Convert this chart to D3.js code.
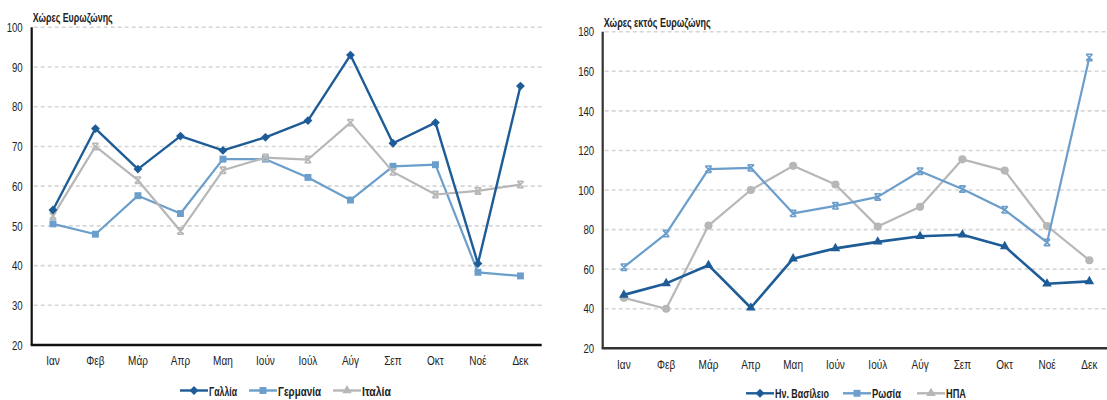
<!DOCTYPE html>
<html>
<head>
<meta charset="utf-8">
<script src="https://cdn.jsdelivr.net/npm/d3@7"></script>
<style>
  html, body { margin: 0; padding: 0; background: #fff; }
  svg { display: block; }
  text { font-family: "Liberation Sans", Arial, sans-serif; fill: #222; }
</style>
</head>
<body>
<svg id="chart" width="1107" height="400"></svg>
<script>
// Months shared by both panels
const months = ["Ιαν", "Φεβ", "Μάρ", "Απρ", "Μαη", "Ιούν", "Ιούλ", "Αύγ", "Σεπ", "Οκτ", "Νοέ", "Δεκ"];

// Eurozone countries
const franceValues  = [54, 74.5, 64.3, 72.6, 69, 72.3, 76.5, 93, 70.8, 76, 40.5, 85.2];
const germanyValues = [50.5, 47.9, 57.6, 53.1, 66.8, 66.8, 62.2, 56.5, 65, 65.4, 38.3, 37.4];
const italyValues   = [52.5, 70, 61.5, 48.7, 64, 67.2, 66.7, 76, 63.6, 57.9, 58.8, 60.4];
const euroTicks = [20, 30, 40, 50, 60, 70, 80, 90, 100];

// Non-eurozone countries
const ukValues     = [47, 52.8, 62, 40.5, 65.3, 70.5, 73.8, 76.6, 77.4, 71.5, 52.6, 53.8];
const russiaValues = [61, 78, 110.5, 111.2, 88.2, 92, 96.5, 109.5, 100.5, 90, 73.5, 167];
const usaValues    = [45.5, 40, 82, 100, 112.2, 102.8, 81.5, 91.5, 115.5, 109.8, 81.8, 64.5];
const nonEuroTicks = [20, 40, 60, 80, 100, 120, 140, 160, 180];

const DARK = "#1d5c96", LIGHT = "#6b9ecb", GREY = "#b7b7b7";

const svg = d3.select("#chart");

// Excel-style "x" marker with top and bottom bars
const crossStar = {
  draw(ctx, size) {
    const r = Math.sqrt(size) / 2;
    ctx.moveTo(-r, -r); ctx.lineTo(r, r);
    ctx.moveTo(r, -r); ctx.lineTo(-r, r);
    ctx.moveTo(-r, -r); ctx.lineTo(r, -r);
    ctx.moveTo(-r, r); ctx.lineTo(r, r);
  }
};

function marker(g, type, color, x, y) {
  const t = `translate(${x},${y})`;
  if (type === "diamond") {
    g.append("path").attr("d", d3.symbol(d3.symbolDiamond2, 50)()).attr("transform", t).attr("fill", color);
  } else if (type === "square") {
    g.append("path").attr("d", d3.symbol(d3.symbolSquare, 48)()).attr("transform", t).attr("fill", color);
  } else if (type === "triangle") {
    g.append("path").attr("d", d3.symbol(d3.symbolTriangle, 40)()).attr("transform", t).attr("fill", color);
  } else if (type === "circle") {
    g.append("path").attr("d", d3.symbol(d3.symbolCircle, 52)()).attr("transform", t).attr("fill", color);
  } else if (type === "cross") {
    g.append("path").attr("d", d3.symbol(crossStar, 40)()).attr("transform", t)
      .attr("fill", "none").attr("stroke", color).attr("stroke-width", 1.6);
  }
}

function drawPanel(opt) {
  const g = svg.append("g");
  const x = d3.scaleBand().domain(months).range([opt.left, opt.right]).padding(0);
  const y = d3.scaleLinear().domain(opt.domain).range([opt.bottom, opt.top]);
  const cx = m => x(m) + x.bandwidth() / 2;

  // dashed horizontal gridlines
  g.append("g").selectAll("line").data(opt.ticks.slice(1)).join("line")
    .attr("x1", opt.left + 2).attr("x2", opt.gridEnd)
    .attr("y1", d => y(d)).attr("y2", d => y(d))
    .attr("stroke", "#d6d6d6").attr("stroke-width", 1.6).attr("stroke-dasharray", "4,3");

  // y axis
  const yAxis = d3.axisLeft(y).tickValues(opt.ticks).tickSize(0).tickPadding(opt.tickPad);
  const ya = g.append("g").attr("transform", `translate(${opt.left},0)`).call(yAxis);
  ya.select(".domain").remove();
  ya.selectAll("text").attr("class", "narrow").attr("font-size", 13).attr("fill", "#333")
    .style("font-family", '"Liberation Sans", Arial, sans-serif');
  g.append("line").attr("x1", opt.left).attr("x2", opt.left).attr("y1", opt.top).attr("y2", opt.bottom)
    .attr("stroke", opt.axisColor).attr("stroke-width", 2.2);

  // x axis
  const xAxis = d3.axisBottom(x).tickSize(0).tickPadding(opt.xPad);
  const xa = g.append("g").attr("transform", `translate(0,${opt.bottom})`).call(xAxis);
  xa.select(".domain").remove();
  xa.selectAll("text").attr("class", "narrow").attr("font-size", 13.5).attr("fill", "#333")
    .style("font-family", '"Liberation Sans", Arial, sans-serif');
  g.append("line").attr("x1", opt.left - 1).attr("x2", opt.gridEnd).attr("y1", opt.bottom).attr("y2", opt.bottom)
    .attr("stroke", opt.axisColor).attr("stroke-width", 2.6);

  // title
  g.append("text").attr("x", opt.left + 1).attr("y", opt.top - 5)
    .attr("font-size", 13).attr("font-weight", "bold").attr("fill", "#222")
    .attr("textLength", opt.titleWidth).attr("lengthAdjust", "spacingAndGlyphs")
    .text(opt.title);

  // series lines and markers
  const line = d3.line().x((d, i) => cx(months[i])).y(d => y(d));
  opt.series.forEach(s => {
    g.append("path").datum(s.values).attr("d", line)
      .attr("fill", "none").attr("stroke", s.color).attr("stroke-width", s.width)
      .attr("stroke-linejoin", "round");
    const mg = g.append("g");
    s.values.forEach((v, i) => marker(mg, s.marker, s.color, cx(months[i]), y(v)));
  });

  // legend
  const lg = g.append("g");
  opt.legend.forEach(item => {
    lg.append("line").attr("x1", item.x).attr("x2", item.x + 28)
      .attr("y1", opt.legendY).attr("y2", opt.legendY)
      .attr("stroke", item.color).attr("stroke-width", 2.4);
    marker(lg, item.marker, item.color, item.x + 14, opt.legendY);
    lg.append("text").attr("x", item.x + 29).attr("y", opt.legendY + 5)
      .attr("font-size", 13.5).attr("font-weight", "bold").attr("fill", "#222")
      .attr("textLength", item.w).attr("lengthAdjust", "spacingAndGlyphs")
      .text(item.label);
  });
}

drawPanel({
  left: 31.7, right: 541.7, gridEnd: 541.7, top: 27.3, bottom: 345,
  domain: [20, 100], ticks: euroTicks, tickPad: 9, xPad: 10, axisColor: "#111",
  title: "Χώρες Ευρωζώνης", titleWidth: 80,
  series: [
    { values: germanyValues, color: LIGHT, marker: "square", width: 2.2 },
    { values: italyValues, color: GREY, marker: "cross", width: 2.2 },
    { values: franceValues, color: DARK, marker: "diamond", width: 2.4 }
  ],
  legendY: 390.5,
  legend: [
    { label: "Γαλλία", color: DARK, marker: "diamond", x: 180, w: 28 },
    { label: "Γερμανία", color: LIGHT, marker: "square", x: 249, w: 43 },
    { label: "Ιταλία", color: GREY, marker: "triangle", x: 333, w: 29 }
  ]
});

drawPanel({
  left: 602.7, right: 1110.5, gridEnd: 1107, top: 31.7, bottom: 348.3,
  domain: [20, 180], ticks: nonEuroTicks, tickPad: 8.5, xPad: 11, axisColor: "#333",
  title: "Χώρες εκτός Ευρωζώνης", titleWidth: 107,
  series: [
    { values: usaValues, color: GREY, marker: "circle", width: 2.2 },
    { values: russiaValues, color: LIGHT, marker: "cross", width: 2.2 },
    { values: ukValues, color: DARK, marker: "triangle", width: 2.6 }
  ],
  legendY: 393.3,
  legend: [
    { label: "Ην. Βασίλειο", color: DARK, marker: "diamond", x: 746, w: 54 },
    { label: "Ρωσία", color: LIGHT, marker: "square", x: 843, w: 29 },
    { label: "ΗΠΑ", color: GREY, marker: "triangle", x: 917, w: 20 }
  ]
});

// Condense axis labels to the narrow face used in the publication
svg.selectAll("text.narrow").each(function () {
  const len = this.getComputedTextLength();
  d3.select(this).attr("textLength", len * 0.74).attr("lengthAdjust", "spacingAndGlyphs");
});
</script>
</body>
</html>
